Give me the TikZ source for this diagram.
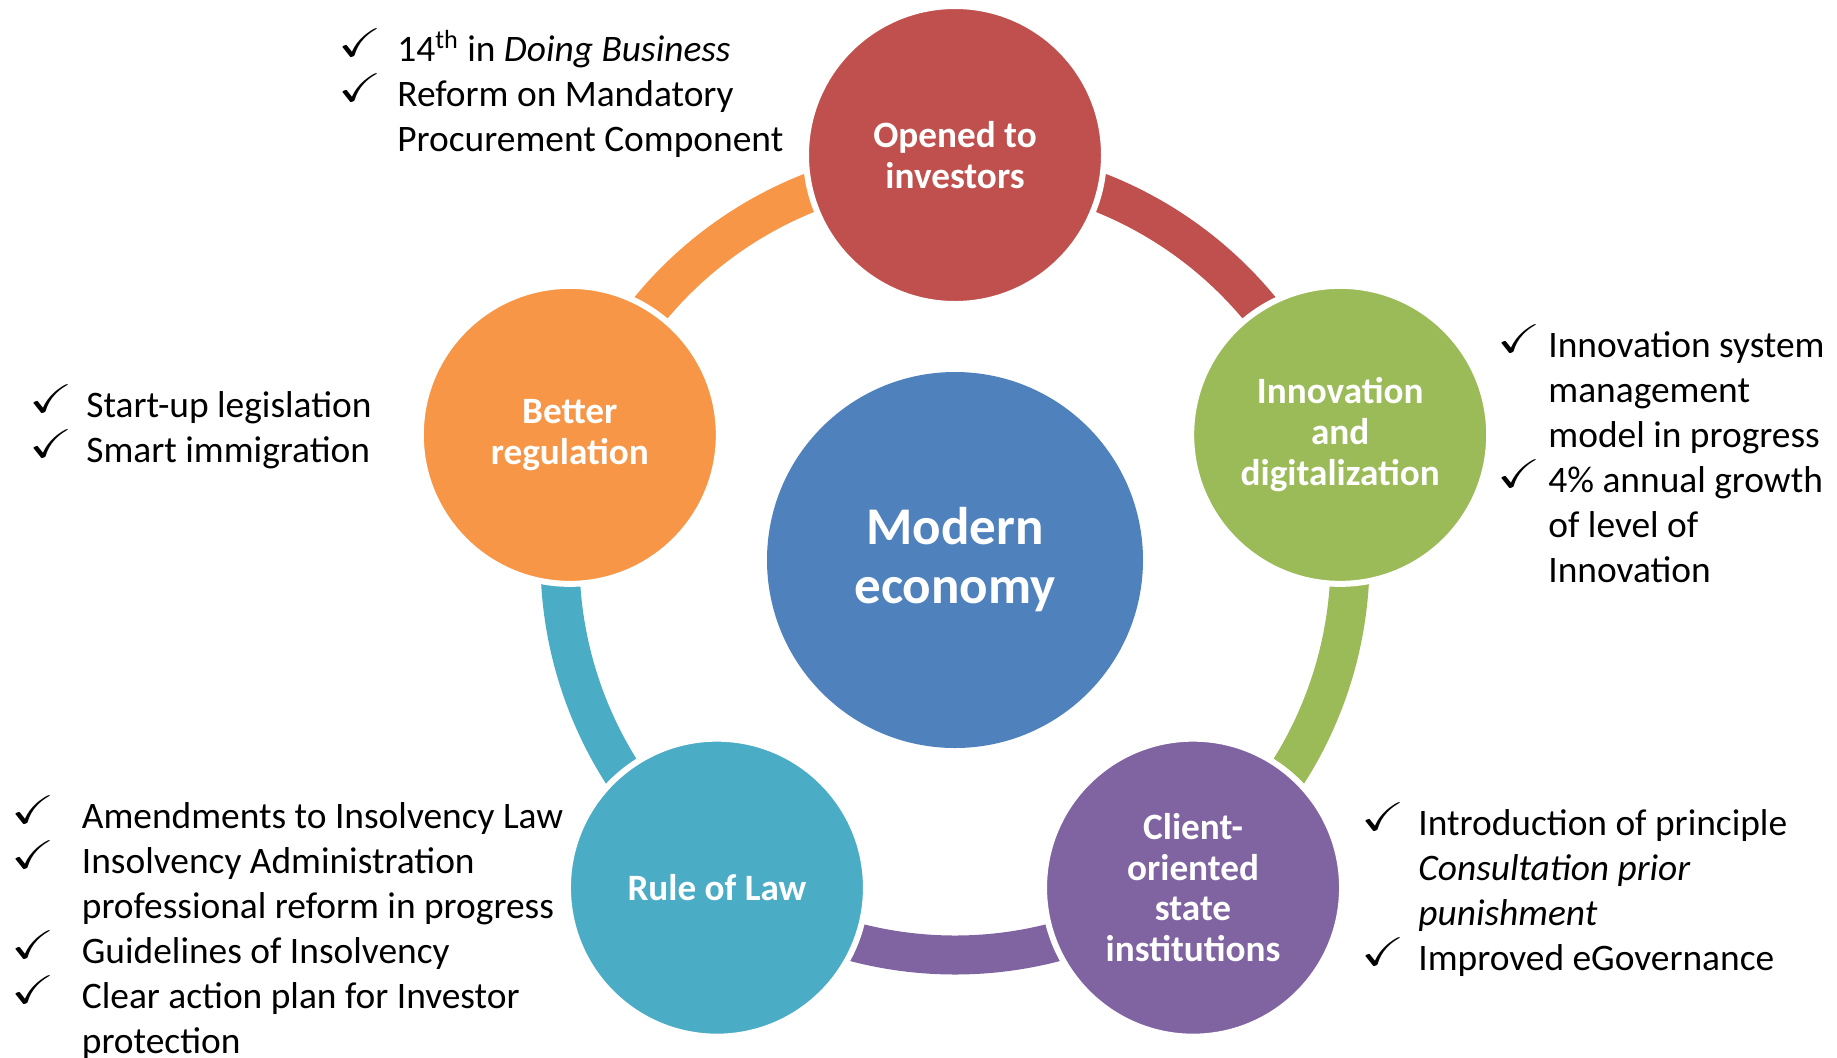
\documentclass[tikz,border=0pt]{standalone}
\usepackage{fontspec}
\setmainfont{Carlito}
\usepackage{amssymb}
\usepackage{graphicx}

\definecolor{cRed}{HTML}{C0504D}
\definecolor{cGreen}{HTML}{9BBB59}
\definecolor{cPurple}{HTML}{8064A2}
\definecolor{cCyan}{HTML}{4BACC6}
\definecolor{cOrange}{HTML}{F79646}
\definecolor{cBlue}{HTML}{4F81BD}

\newcommand{\chk}{\smash{\raisebox{2.4pt}{\scalebox{1.3}[1]{\fontsize{20pt}{20pt}\selectfont$\checkmark$}}}}
\newcommand{\chklist}[2]{\begin{tabular}{@{}p{#1}@{}l@{}}#2\end{tabular}}

\tikzset{
  ring/.style={draw=#1, line width=19.5pt},
  petal/.style={circle, fill=#1, draw=white, line width=3pt, minimum size=149pt, inner sep=0pt,
    text=white, align=center, font=\bfseries\fontsize{18.6pt}{20.4pt}\selectfont},
  hubcircle/.style={circle, fill=cBlue, minimum size=188pt, inner sep=0pt,
    text=white, align=center, font=\bfseries\fontsize{26.5pt}{29.5pt}\selectfont},
  checklist/.style={anchor=north west, inner sep=0pt, font=\fontsize{18.7pt}{22.5pt}\selectfont}
}

\begin{document}
\begin{tikzpicture}[x=0.5pt, y=0.5pt]

      \useasboundingbox (0,0) rectangle (1837,-1057);

      \begin{scope}[shift={(955,-560)}]
        \coordinate (r1) at (90:395);
        \coordinate (r2) at (18:395);
        \coordinate (r3) at (-54:395);
        \coordinate (r4) at (-126:395);
        \coordinate (r5) at (162:395);

        % ring pieces, drawn under the circles
        \draw[ring=cRed]    (r1) arc[start angle=90,   end angle=18,   radius=197.5pt];
        \draw[ring=cGreen]  (r2) arc[start angle=18,   end angle=-54,  radius=197.5pt];
        \draw[ring=cPurple] (r3) arc[start angle=-54,  end angle=-126, radius=197.5pt];
        \draw[ring=cCyan]   (r4) arc[start angle=-126, end angle=-198, radius=197.5pt];
        \draw[ring=cOrange] (r5) arc[start angle=162,  end angle=90,   radius=197.5pt];

        \node[hubcircle] (hub) at (0,0) {Modern\\economy};

        \node[petal=cRed]    (open)   at (90:405)   {Opened to\\investors};
        \node[petal=cGreen]  (innov)  at (18:405)   {Innovation\\and\\digitalization};
        \node[petal=cPurple] (client) at (-54:405)  {Client-\\oriented\\state\\institutions};
        \node[petal=cCyan]   (law)    at (-126:405) {Rule of Law};
        \node[petal=cOrange] (better) at (162:405)  {Better\\regulation};
      \end{scope}

      % lists beside the circles
      \node[checklist] (openlist) at (338,-29.5) {\chklist{29.5pt}{%
        \chk & 14\textsuperscript{th} in \textit{Doing Business}\\
        \chk & Reform on Mandatory\\
             & Procurement Component}};
      \node[checklist] (betterlist) at (29,-385.2) {\chklist{28.5pt}{%
        \chk & Start-up legislation\\
        \chk & Smart immigration}};
      \node[checklist] (innovlist) at (1497,-325.2) {\chklist{25.5pt}{%
        \chk & Innovation system\\
             & management\\
             & model in progress\\
        \chk & 4\% annual growth\\
             & of level of\\
             & Innovation}};
      \node[checklist] (clientlist) at (1361,-803.5) {\chklist{28.5pt}{%
        \chk & Introduction of principle\\
             & \textit{Consultation prior}\\
             & \textit{punishment}\\
        \chk & Improved eGovernance}};
      \node[checklist] (lawlist) at (11.5,-796.8) {\chklist{35pt}{%
        \chk & Amendments to Insolvency Law\\
        \chk & Insolvency Administration\\
             & professional reform in progress\\
        \chk & Guidelines of Insolvency\\
        \chk & Clear action plan for Investor\\
             & protection}};

    \end{tikzpicture}
\end{document}
